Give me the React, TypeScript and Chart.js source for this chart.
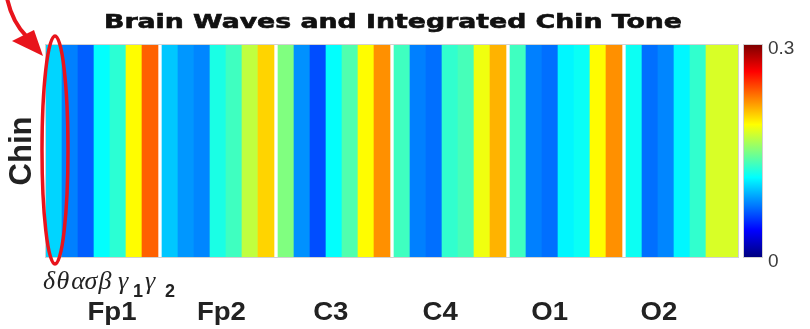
import React, { useEffect, useRef } from "react";
import { Chart, registerables } from "chart.js";

Chart.register(...registerables);

const titleText = "Brain Waves and Integrated Chin Tone";
const rowLabel = "Chin";
const channels = ["Fp1", "Fp2", "C3", "C4", "O1", "O2"];
const bandSymbols = ["δ", "θ", "α", "σ", "β", "γ", "γ"];
const bandSubscripts = ["", "", "", "", "", "1", "2"];

// Chin-tone coupling per band (δ θ α σ β γ1 γ2) for each EEG channel
const fp1 = [0.1, 0.075, 0.065, 0.113, 0.125, 0.188, 0.234];
const fp2 = [0.096, 0.082, 0.077, 0.12, 0.131, 0.169, 0.2];
const c3 = [0.15, 0.08, 0.06, 0.113, 0.136, 0.188, 0.22];
const c4 = [0.131, 0.075, 0.07, 0.127, 0.133, 0.183, 0.21];
const o1 = [0.131, 0.075, 0.07, 0.11, 0.115, 0.188, 0.22];
const o2 = [0.116, 0.07, 0.077, 0.11, 0.127, 0.176, 0.176];
const channelValues = [fp1, fp2, c3, c4, o1, o2];

const colorMin = 0;
const colorMax = 0.3;
const colorTickValues = [0, 0.3];
const colorTickLabels = ["0", "0.3"];

// gap between channel blocks, in column widths
const GROUP_GAP = 0.25;
const BANDS = bandSymbols.length;
const GROUP_SPAN = BANDS + GROUP_GAP;
const X_MAX = channels.length * BANDS + (channels.length - 1) * GROUP_GAP;

const clamp01 = (v: number) => Math.max(0, Math.min(1, v));

// MATLAB-style jet colormap
function jet(t: number): string {
  const r = clamp01(Math.min(4 * t - 1.5, -4 * t + 4.5));
  const g = clamp01(Math.min(4 * t - 0.5, -4 * t + 3.5));
  const b = clamp01(Math.min(4 * t + 0.5, -4 * t + 2.5));
  return `rgb(${Math.round(r * 255)},${Math.round(g * 255)},${Math.round(b * 255)})`;
}

const cells: { x: number; y: [number, number] }[] = [];
const cellColors: string[] = [];
channelValues.forEach((vals, g) => {
  vals.forEach((v, b) => {
    cells.push({ x: g * GROUP_SPAN + b + 0.5, y: [0, 1] });
    cellColors.push(jet((v - colorMin) / (colorMax - colorMin)));
  });
});

const SANS = '"Liberation Sans", Arial, Helvetica, sans-serif';
const HEAVY = '"DejaVu Sans", "Liberation Sans", sans-serif';
const SERIF = '"Liberation Serif", "DejaVu Serif", serif';

const overlayPlugin = {
  id: "heatmapOverlay",
  afterDraw(chart: any) {
    const { ctx, chartArea, scales } = chart;
    const xs = scales.x;
    const cb = scales.cb;
    const midY = (chartArea.top + chartArea.bottom) / 2;
    ctx.save();

    // frame around the heatmap
    ctx.strokeStyle = "#d2d2d2";
    ctx.lineWidth = 1;
    ctx.strokeRect(chartArea.left - 0.5, chartArea.top - 0.5, chartArea.width + 1, chartArea.height + 1);

    // colorbar
    const cbLeft = 744;
    const cbWidth = 18;
    const cbTop = cb.getPixelForValue(colorMax);
    const cbBottom = cb.getPixelForValue(colorMin);
    const grad = ctx.createLinearGradient(0, cbBottom, 0, cbTop);
    for (let i = 0; i <= 64; i++) grad.addColorStop(i / 64, jet(i / 64));
    ctx.fillStyle = grad;
    ctx.fillRect(cbLeft, cbTop, cbWidth, cbBottom - cbTop);
    ctx.strokeRect(cbLeft - 0.5, cbTop - 0.5, cbWidth + 1, cbBottom - cbTop + 1);

    ctx.fillStyle = "#3c3c3c";
    ctx.font = `19px ${SANS}`;
    ctx.textAlign = "left";
    ctx.textBaseline = "middle";
    colorTickValues.forEach((v, i) => {
      ctx.fillText(colorTickLabels[i], 768, cb.getPixelForValue(v) + (v === colorMin ? 5 : 4));
    });

    // title, widened to span the plot
    ctx.fillStyle = "#111";
    ctx.strokeStyle = "#111";
    ctx.lineWidth = 0.6;
    ctx.font = `bold 20px ${HEAVY}`;
    ctx.textAlign = "center";
    ctx.textBaseline = "alphabetic";
    const tw = ctx.measureText(titleText).width;
    ctx.save();
    ctx.translate(393, 28);
    ctx.scale(578 / tw, 1);
    ctx.fillText(titleText, 0, 0);
    ctx.strokeText(titleText, 0, 0);
    ctx.restore();

    // row label
    ctx.save();
    ctx.fillStyle = "#222";
    ctx.font = `bold 31px ${SANS}`;
    ctx.translate(31, midY);
    ctx.rotate(-Math.PI / 2);
    ctx.textAlign = "center";
    ctx.fillText(rowLabel, 0, 0);
    ctx.restore();

    // channel labels
    ctx.fillStyle = "#222";
    ctx.font = `bold 25px ${SANS}`;
    ctx.textAlign = "center";
    const fpw = ctx.measureText(channels[0]).width;
    const sx = 49 / fpw;
    channels.forEach((name, g) => {
      const cx = xs.getPixelForValue(g * GROUP_SPAN + BANDS / 2) + 10 - g * 6.6;
      ctx.save();
      ctx.translate(cx, 320);
      ctx.scale(sx, 1);
      ctx.fillText(name, 0, 0);
      ctx.restore();
    });

    // band symbols under the first channel block
    const greekX = [49, 63, 78, 91, 105, 123, 150];
    const subX = [0, 0, 0, 0, 0, 138, 170];
    bandSymbols.forEach((sym, b) => {
      ctx.font = `italic 26px ${SERIF}`;
      ctx.textAlign = "center";
      ctx.fillStyle = "#222";
      ctx.fillText(sym, greekX[b], 289);
      if (bandSubscripts[b]) {
        ctx.font = `bold 18px ${SANS}`;
        ctx.fillText(bandSubscripts[b], subX[b], 297);
      }
    });

    // highlight of the δ column
    const red = "#e8141c";
    ctx.strokeStyle = red;
    ctx.lineWidth = 3.5;
    ctx.beginPath();
    ctx.ellipse(xs.getPixelForValue(0.5) + 1, midY - 1, 13, 114, 0, 0, Math.PI * 2);
    ctx.stroke();

    // pointer arrow
    ctx.lineWidth = 4;
    ctx.beginPath();
    ctx.moveTo(7, -2);
    ctx.quadraticCurveTo(12, 22, 27, 37);
    ctx.stroke();
    ctx.fillStyle = red;
    ctx.beginPath();
    ctx.moveTo(12, 41);
    ctx.lineTo(34, 30);
    ctx.lineTo(43, 56);
    ctx.closePath();
    ctx.fill();

    ctx.restore();
  },
};

export default function App() {
  const ref = useRef<HTMLCanvasElement>(null);

  useEffect(() => {
    if (!ref.current) return;
    const chart = new Chart(ref.current, {
      type: "bar",
      data: {
        datasets: [
          {
            data: cells as any,
            backgroundColor: cellColors,
            borderWidth: 0,
            barPercentage: 1,
            categoryPercentage: 1,
          },
        ],
      },
      options: {
        animation: false,
        responsive: false,
        maintainAspectRatio: false,
        events: [],
        layout: { padding: { left: 46, right: 72, top: 45, bottom: 72 } },
        scales: {
          x: { type: "linear", display: false, min: 0, max: X_MAX, offset: false, ticks: { stepSize: 1 } },
          y: { type: "linear", display: false, min: 0, max: 1 },
          cb: { type: "linear", axis: "y", display: false, min: colorMin, max: colorMax },
        } as any,
        plugins: {
          legend: { display: false },
          tooltip: { enabled: false },
          title: { display: false },
        },
      },
      plugins: [overlayPlugin],
    });
    return () => chart.destroy();
  }, []);

  return (
    <div style={{ position: "absolute", left: 0, top: 0, width: 810, height: 329, background: "#fff" }}>
      <canvas ref={ref} width={810} height={329} style={{ display: "block" }} />
    </div>
  );
}
